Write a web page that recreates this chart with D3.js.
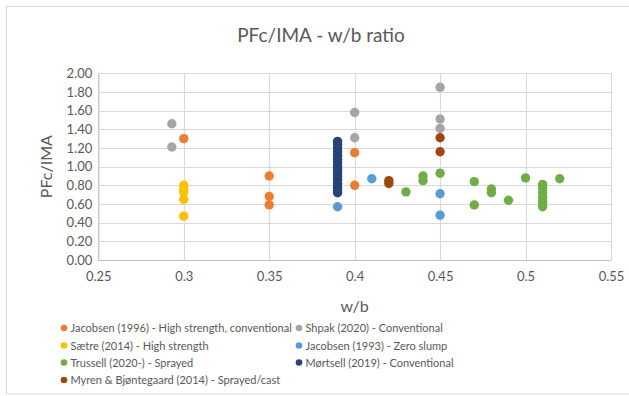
<!DOCTYPE html>
<html>
<head>
<meta charset="utf-8">
<script src="https://cdn.jsdelivr.net/npm/d3@7"></script>
<style>
  html, body { margin: 0; padding: 0; background: #fff; }
  svg { display: block; font-family: Lato, "Open Sans", sans-serif; }
</style>
</head>
<body>
<svg id="chart" width="629" height="396"></svg>
<script>
// Series: [w/b, PFc/IMA] pairs
const jacobsen1996 = [[0.30, 1.30], [0.35, 0.90], [0.35, 0.68], [0.35, 0.59], [0.40, 1.15], [0.40, 0.80]];
const shpak2020 = [[0.293, 1.46], [0.293, 1.21], [0.40, 1.58], [0.40, 1.31], [0.45, 1.85], [0.45, 1.51], [0.45, 1.41]];
const saetre2014 = [[0.30, 0.80], [0.30, 0.76], [0.30, 0.73], [0.30, 0.65], [0.30, 0.47]];
const jacobsen1993 = [[0.39, 0.57], [0.41, 0.87], [0.45, 0.71], [0.45, 0.48]];
const trussell2020 = [[0.43, 0.73], [0.44, 0.90], [0.44, 0.85], [0.45, 0.93], [0.47, 0.84], [0.47, 0.59],
  [0.48, 0.76], [0.48, 0.72], [0.49, 0.64], [0.50, 0.88],
  [0.51, 0.81], [0.51, 0.77], [0.51, 0.72], [0.51, 0.67], [0.51, 0.63], [0.51, 0.60], [0.51, 0.57], [0.52, 0.87]];
const mortsell2019 = [[0.39, 1.27], [0.39, 1.24], [0.39, 1.20], [0.39, 1.16], [0.39, 1.12], [0.39, 1.08], [0.39, 1.05],
  [0.39, 1.01], [0.39, 0.98], [0.39, 0.95], [0.39, 0.92], [0.39, 0.89], [0.39, 0.86], [0.39, 0.82], [0.39, 0.78],
  [0.39, 0.75], [0.39, 0.72]];
const myren2014 = [[0.42, 0.85], [0.42, 0.82], [0.45, 1.31], [0.45, 1.16]];

const seriesNames = [
  "Jacobsen (1996) - High strength, conventional",
  "Shpak (2020) - Conventional",
  "Sætre (2014) - High strength",
  "Jacobsen (1993) - Zero slump",
  "Trussell (2020-) - Sprayed",
  "Mørtsell (2019) - Conventional",
  "Myren & Bjøntegaard (2014) - Sprayed/cast"
];
const seriesData = [jacobsen1996, shpak2020, saetre2014, jacobsen1993, trussell2020, mortsell2019, myren2014];
const seriesColors = ["#ED7D31", "#A5A5A5", "#FFC000", "#5B9BD5", "#70AD47", "#264478", "#9E480E"];

const xTicks = [0.25, 0.3, 0.35, 0.4, 0.45, 0.5, 0.55];
const yTicks = [0, 0.2, 0.4, 0.6, 0.8, 1.0, 1.2, 1.4, 1.6, 1.8, 2.0];

const svg = d3.select("#chart");
const plot = { left: 98.3, right: 611, top: 73.3, bottom: 260 };

const x = d3.scaleLinear().domain([0.25, 0.55]).range([plot.left, plot.right]);
const y = d3.scaleLinear().domain([0, 2]).range([plot.bottom, plot.top]);

// Chart frame
svg.append("rect")
  .attr("x", 6.5).attr("y", 6.5).attr("width", 640).attr("height", 387.5)
  .attr("fill", "#fff").attr("stroke", "#D9D9D9").attr("stroke-width", 1);

// Title
svg.append("text")
  .attr("x", 321).attr("y", 42)
  .attr("text-anchor", "middle")
  .attr("font-size", 19)
  .attr("fill", "#595959")
  .text("PFc/IMA - w/b ratio");

// Gridlines
const grid = svg.append("g");
grid.selectAll("line.h").data(yTicks).join("line")
  .attr("x1", plot.left).attr("x2", plot.right)
  .attr("y1", d => Math.round(y(d)) + 0.5).attr("y2", d => Math.round(y(d)) + 0.5)
  .attr("stroke", "#D9D9D9").attr("stroke-width", 1.2);
grid.selectAll("line.v").data(xTicks).join("line")
  .attr("y1", plot.top).attr("y2", plot.bottom)
  .attr("x1", d => Math.round(x(d)) + 0.5).attr("x2", d => Math.round(x(d)) + 0.5)
  .attr("stroke", "#D9D9D9").attr("stroke-width", 1.2);

// Axes
const xAxis = svg.append("g")
  .attr("transform", `translate(0,${plot.bottom})`)
  .call(d3.axisBottom(x).tickValues(xTicks).tickSize(0).tickPadding(12)
    .tickFormat(d => String(+d.toFixed(2))));
xAxis.select(".domain").attr("stroke", "#BFBFBF");
xAxis.selectAll("text").attr("font-size", 13).attr("fill", "#595959").attr("font-family", "Lato, sans-serif");

const yAxis = svg.append("g")
  .attr("transform", `translate(${plot.left},0)`)
  .call(d3.axisLeft(y).tickValues(yTicks).tickSize(0).tickPadding(6).tickFormat(d3.format(".2f")));
yAxis.select(".domain").attr("stroke", "#BFBFBF");
yAxis.selectAll("text").attr("font-size", 13).attr("fill", "#595959").attr("font-family", "Lato, sans-serif");

// Axis titles
svg.append("text")
  .attr("x", (plot.left + plot.right) / 2).attr("y", 312)
  .attr("text-anchor", "middle").attr("font-size", 16).attr("fill", "#595959")
  .text("w/b");
svg.append("text")
  .attr("transform", `translate(52,${(plot.top + plot.bottom) / 2}) rotate(-90)`)
  .attr("text-anchor", "middle").attr("font-size", 16).attr("fill", "#595959")
  .text("PFc/IMA");

// Points
seriesData.forEach((data, i) => {
  svg.append("g").selectAll("circle").data(data).join("circle")
    .attr("cx", d => x(d[0])).attr("cy", d => y(d[1]))
    .attr("r", 4.7)
    .attr("fill", seriesColors[i]);
});

// Legend: two columns
const legendPos = [[64, 328], [299, 328], [64, 345.5], [299, 345.5], [64, 362.5], [299, 362.5], [64, 380]];
const legend = svg.append("g");
seriesNames.forEach((name, i) => {
  const [lx, ly] = legendPos[i];
  legend.append("circle").attr("cx", lx).attr("cy", ly).attr("r", 3.3).attr("fill", seriesColors[i]);
  legend.append("text")
    .attr("x", lx + 6.5).attr("y", ly + 4)
    .attr("font-size", 11).attr("fill", "#595959")
    .text(name);
});
</script>
</body>
</html>
